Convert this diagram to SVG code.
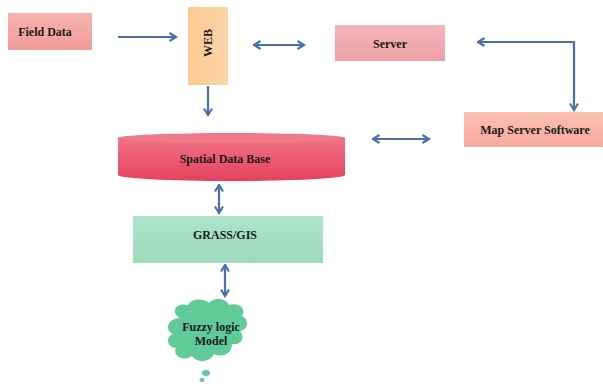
<svg xmlns="http://www.w3.org/2000/svg" width="603" height="384" viewBox="0 0 603 384">
<style>
text{font-family:"Liberation Serif","Times New Roman",serif;font-weight:bold;font-size:12px;fill:#1a1a1a;text-anchor:middle}
.c{stroke:#4A6FAE;stroke-width:2.2;fill:none}
</style>
<defs>
<marker id="ah" viewBox="0 0 10 10" refX="8" refY="5" markerWidth="4.5" markerHeight="4.5" orient="auto-start-reverse" markerUnits="userSpaceOnUse" >
<path d="M1,1 L8,5 L1,9" fill="none" stroke="#4A6FAE" stroke-width="2"/>
</marker>
<marker id="a" viewBox="0 0 10 10" refX="8.5" refY="5" markerWidth="10" markerHeight="10" orient="auto-start-reverse" markerUnits="userSpaceOnUse">
<path d="M2,1 L8.5,5 L2,9" fill="none" stroke="#4A6FAE" stroke-width="2.2"/>
</marker>
<linearGradient id="gPink" x1="0" y1="0" x2="0" y2="1"><stop offset="0" stop-color="#f7b2ae"/><stop offset="1" stop-color="#f19c98"/></linearGradient>
<linearGradient id="gSrv" x1="0" y1="0" x2="0" y2="1"><stop offset="0" stop-color="#f5b5bb"/><stop offset="1" stop-color="#ef9ea7"/></linearGradient>
<linearGradient id="gMap" x1="0" y1="0" x2="0" y2="1"><stop offset="0" stop-color="#fac0b2"/><stop offset="1" stop-color="#f6aa9b"/></linearGradient>
<linearGradient id="gWeb" x1="0" y1="0" x2="1" y2="0"><stop offset="0" stop-color="#fcc98f"/><stop offset="1" stop-color="#fdd6ab"/></linearGradient>
<linearGradient id="gDb" x1="0" y1="0" x2="0" y2="1"><stop offset="0" stop-color="#f07387"/><stop offset="1" stop-color="#e5415c"/></linearGradient>
<linearGradient id="gGr" x1="0" y1="0" x2="0" y2="1"><stop offset="0" stop-color="#aee3c9"/><stop offset="1" stop-color="#9ddbbb"/></linearGradient>
</defs>

<g id="field-data">
<rect x="8" y="13" width="84" height="37" fill="url(#gPink)"/>
<text x="45" y="36">Field Data</text>
</g>

<g id="web">
<rect x="188" y="7" width="40" height="78" fill="url(#gWeb)"/>
<text transform="translate(212,43) rotate(-90)">WEB</text>
</g>

<g id="server">
<rect x="335" y="25" width="110" height="36" fill="url(#gSrv)"/>
<text x="390" y="48">Server</text>
</g>

<g id="map-server-software">
<rect x="464" y="112" width="139" height="35" fill="url(#gMap)"/>
<text x="535" y="134">Map Server Software</text>
</g>

<g id="spatial-data-base">
<path d="M118,138 L118,175 A113.5,6 0 0 0 345,175 L345,138 Z" fill="url(#gDb)"/>
<ellipse cx="231.5" cy="138" rx="113.5" ry="5" fill="#f07a8c"/>
<text x="225" y="163">Spatial Data Base</text>
</g>

<g id="grass-gis">
<rect x="133" y="216" width="190" height="47" fill="url(#gGr)"/>
<text x="225" y="239">GRASS/GIS</text>
</g>

<g id="fuzzy-logic-model">
<path d="M180,318 C170,312 176,302 188,305 C192,298 204,298 209,303 C214,297 226,298 229,305 C238,302 247,308 242,316 C250,320 248,330 240,331 C246,338 240,346 232,344 C232,354 222,358 214,354 C210,362 197,364 192,356 C184,362 172,356 176,348 C166,347 166,336 173,334 C164,330 168,318 180,318 Z" fill="#5ecb98"/>
<ellipse cx="206" cy="373" rx="4" ry="3" fill="#5ecb98"/>
<ellipse cx="202" cy="380" rx="2.5" ry="2" fill="#5ecb98"/>
<text x="211" y="331">Fuzzy logic</text>
<text x="211" y="345">Model</text>
</g>

<g id="connectors">
<line class="c" x1="118" y1="37" x2="176" y2="37" marker-end="url(#a)"/>
<line class="c" x1="254" y1="45" x2="304" y2="45" marker-start="url(#a)" marker-end="url(#a)"/>
<line class="c" x1="208" y1="86" x2="208" y2="115" marker-end="url(#a)"/>
<polyline class="c" points="478,42 574,42 574,110" marker-start="url(#a)" marker-end="url(#a)"/>
<line class="c" x1="373" y1="139" x2="429" y2="139" marker-start="url(#a)" marker-end="url(#a)"/>
<line class="c" x1="219" y1="185" x2="219" y2="213" marker-start="url(#a)" marker-end="url(#a)"/>
<line class="c" x1="225" y1="265" x2="225" y2="296" marker-start="url(#a)" marker-end="url(#a)"/>
</g>
</svg>
